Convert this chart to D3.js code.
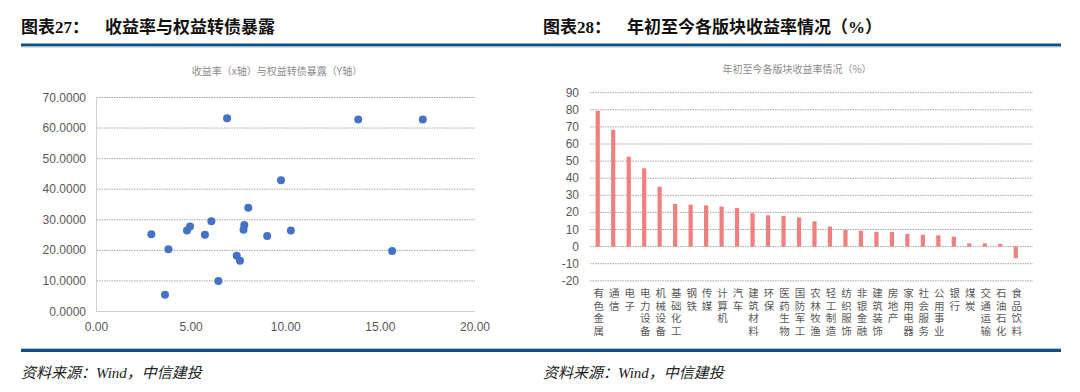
<!DOCTYPE html>
<html>
<head>
<meta charset="utf-8">
<script src="https://cdn.jsdelivr.net/npm/d3@7"></script>
<style>
  html, body { margin: 0; padding: 0; background: #fff; }
  svg { display: block; }
  .head { font-family: "Liberation Serif", "Noto Sans CJK SC", serif; font-weight: bold; font-size: 17px; fill: #111; }
  .sub { font-family: "Noto Sans CJK SC", sans-serif; font-size: 10px; fill: #8c8c8c; }
  .tick { font-family: "Liberation Sans", Arial, sans-serif; font-size: 12px; fill: #595959; }
  .cat { font-family: "Noto Sans CJK SC", sans-serif; font-size: 10.5px; fill: #595959; writing-mode: vertical-rl; }
  .src { font-family: "Liberation Serif", "Noto Sans CJK SC", serif; font-style: italic; font-size: 15px; fill: #222; }
</style>
</head>
<body>
<svg id="chart" width="1080" height="392"></svg>
<script>
// scatter: 收益率 (x) vs 权益转债暴露 (y)
const scatterX = [2.90, 3.80, 3.62, 4.78, 4.94, 5.73, 6.07, 6.44, 7.41, 7.58, 7.77, 7.81, 8.02, 9.02, 10.27, 15.62, 6.90, 13.83, 17.24, 9.75];
const scatterY = [25.3, 20.4, 5.5, 26.5, 27.8, 25.1, 29.5, 10.0, 18.2, 16.6, 26.7, 28.3, 33.9, 24.7, 26.5, 19.8, 63.2, 62.8, 62.8, 42.9];
const scatterXTicks = [0, 5, 10, 15, 20];
const scatterYTicks = [0, 10, 20, 30, 40, 50, 60, 70];

// bars: 年初至今各版块收益率
const sectors = ["有色金属", "通信", "电子", "电力设备", "机械设备", "基础化工", "钢铁", "传媒", "计算机", "汽车",
  "建筑材料", "环保", "医药生物", "国防军工", "农林牧渔", "轻工制造", "纺织服饰", "非银金融", "建筑装饰", "房地产",
  "家用电器", "社会服务", "公用事业", "银行", "煤炭", "交通运输", "石油石化", "食品饮料"];
const sectorReturns = [79.4, 68.3, 52.6, 45.8, 35.0, 24.9, 24.5, 24.1, 23.4, 22.6,
  19.5, 18.3, 17.9, 17.1, 14.8, 11.7, 9.7, 9.3, 8.6, 8.6,
  7.4, 7.0, 6.6, 5.8, 1.9, 1.9, 1.6, -6.8];
const barYTicks = [-20, -10, 0, 10, 20, 30, 40, 50, 60, 70, 80, 90];

const svg = d3.select("#chart");

// header and footer rules
svg.append("rect").attr("x", 21).attr("y", 43.5).attr("width", 1040).attr("height", 3).attr("fill", "#124f85");
svg.append("rect").attr("x", 21).attr("y", 46.5).attr("width", 1040).attr("height", 1).attr("fill", "#b3c6d9");
svg.append("rect").attr("x", 21).attr("y", 348).attr("width", 1040).attr("height", 1).attr("fill", "#b3c6d9");
svg.append("rect").attr("x", 21).attr("y", 349).attr("width", 1040).attr("height", 3).attr("fill", "#124f85");

const head1 = svg.append("text").attr("class", "head").attr("x", 21).attr("y", 33);
head1.append("tspan").text("图表27：");
head1.append("tspan").attr("dx", 16).text("收益率与权益转债暴露");
const head2 = svg.append("text").attr("class", "head").attr("x", 543).attr("y", 33);
head2.append("tspan").text("图表28：");
head2.append("tspan").attr("dx", 16).text("年初至今各版块收益率情况（%）");

svg.append("text").attr("class", "src").attr("x", 21).attr("y", 378).text("资料来源：Wind，中信建投");
svg.append("text").attr("class", "src").attr("x", 543).attr("y", 378).text("资料来源：Wind，中信建投");

// ---------- left: scatter ----------
const sx = d3.scaleLinear().domain([0, 20]).range([96.5, 475]);
const sy = d3.scaleLinear().domain([0, 70]).range([311.5, 97.5]);

svg.append("text").attr("class", "sub").attr("x", 277).attr("y", 75).attr("text-anchor", "middle")
  .text("收益率（x轴）与权益转债暴露（Y轴）");

const gl = svg.append("g");
gl.selectAll("line.grid").data(scatterYTicks.filter(d => d > 0)).enter().append("line")
  .attr("x1", sx(0)).attr("x2", sx(20))
  .attr("y1", d => sy(d)).attr("y2", d => sy(d))
  .attr("stroke", "#a6a6a6").attr("stroke-dasharray", "1.5,1");
gl.append("line").attr("x1", sx(0)).attr("x2", sx(20)).attr("y1", sy(0)).attr("y2", sy(0)).attr("stroke", "#d0d0d0");
gl.append("line").attr("x1", sx(0)).attr("x2", sx(0)).attr("y1", sy(0)).attr("y2", sy(70)).attr("stroke", "#d0d0d0");

gl.selectAll("text.yt").data(scatterYTicks).enter().append("text").attr("class", "tick")
  .attr("x", 86).attr("y", d => sy(d) + 4).attr("text-anchor", "end")
  .text(d => d3.format(".4f")(d));
gl.selectAll("text.xt").data(scatterXTicks).enter().append("text").attr("class", "tick")
  .attr("x", d => sx(d)).attr("y", 331).attr("text-anchor", "middle")
  .text(d => d3.format(".2f")(d));

gl.selectAll("circle").data(scatterX.map((x, i) => [x, scatterY[i]])).enter().append("circle")
  .attr("cx", d => sx(d[0])).attr("cy", d => sy(d[1])).attr("r", 4)
  .attr("fill", "#4472c4");

// ---------- right: bars ----------
const bx = d3.scaleBand().domain(sectors).range([590, 1023.5]);
const by = d3.scaleLinear().domain([-20, 90]).range([280.8, 92.7]);

svg.append("text").attr("class", "sub").attr("x", 797).attr("y", 73).attr("text-anchor", "middle")
  .text("年初至今各版块收益率情况（%）");

const gr = svg.append("g");
gr.selectAll("line.grid").data(barYTicks).enter().append("line")
  .attr("x1", 590).attr("x2", 1033)
  .attr("y1", d => by(d)).attr("y2", d => by(d))
  .attr("stroke", "#a6a6a6").attr("stroke-dasharray", "1.5,1");
gr.selectAll("text.yt").data(barYTicks).enter().append("text").attr("class", "tick")
  .attr("x", 579).attr("y", d => by(d) + 4).attr("text-anchor", "end")
  .text(d => d);

const barW = 4.2;
gr.selectAll("rect").data(sectors.map((s, i) => [s, sectorReturns[i]])).enter().append("rect")
  .attr("x", d => bx(d[0]) + bx.bandwidth() / 2 - barW / 2)
  .attr("width", barW)
  .attr("y", d => by(Math.max(0, d[1])))
  .attr("height", d => Math.abs(by(d[1]) - by(0)))
  .attr("fill", "#f08080");

// vertical category labels: one character per text, stacked down the column
sectors.forEach(s => {
  const cx = bx(s) + bx.bandwidth() / 2 + 1;
  Array.from(s).forEach((ch, k) => {
    gr.append("text").attr("class", "cat")
      .attr("x", cx).attr("y", 288 + k * 12.5)
      .text(ch);
  });
});
</script>
</body>
</html>
